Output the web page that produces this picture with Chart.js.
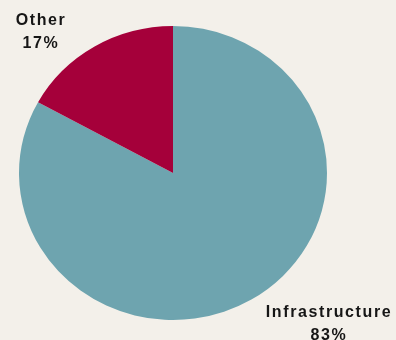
<!DOCTYPE html>
<html>
<head>
<meta charset="utf-8">
<script src="https://cdn.jsdelivr.net/npm/chart.js@4"></script>
<style>
html,body{margin:0;padding:0;background:#f3f0ea;}
canvas{display:block;}
</style>
</head>
<body>
<canvas id="pie" width="396" height="340"></canvas>
<script>
// Data
const categories=['Infrastructure','Other'];
const shares=[83,17];
const colors=['#6ea4af','#a5003a'];

// squash the pie a little wider than tall, like the original
const stretch={
  id:'stretch',
  beforeDatasetsDraw(chart){
    const a=chart.chartArea, cx=(a.left+a.right)/2, cy=(a.top+a.bottom)/2;
    const c=chart.ctx; c.save(); c.translate(cx,cy); c.scale(154/147,1); c.translate(-cx,-cy);
  },
  afterDatasetsDraw(chart){ chart.ctx.restore(); }
};

// Slice labels
const sliceLabels={
  id:'sliceLabels',
  afterDraw(chart){
    const c=chart.ctx; c.save();
    c.fillStyle='#161616'; c.font='bold 16px "Liberation Sans", Arial, sans-serif';
    c.textAlign='center'; c.textBaseline='middle';
    if('letterSpacing' in c) c.letterSpacing='1.6px';
    const spots=[[329,313],[41,21]];
    categories.forEach((name,i)=>{
      const [x,y]=spots[i];
      c.fillText(name,x,y);
      c.fillText(shares[i]+'%',x,y+23);
    });
    c.restore();
  }
};

new Chart(document.getElementById('pie'),{
  type:'pie',
  data:{ labels:categories, datasets:[{ data:shares, backgroundColor:colors, borderWidth:0 }] },
  options:{
    responsive:false, animation:false,
    layout:{padding:{left:19,right:69,top:26,bottom:20}},
    plugins:{legend:{display:false},tooltip:{enabled:false}}
  },
  plugins:[stretch,sliceLabels]
});
</script>
</body>
</html>
